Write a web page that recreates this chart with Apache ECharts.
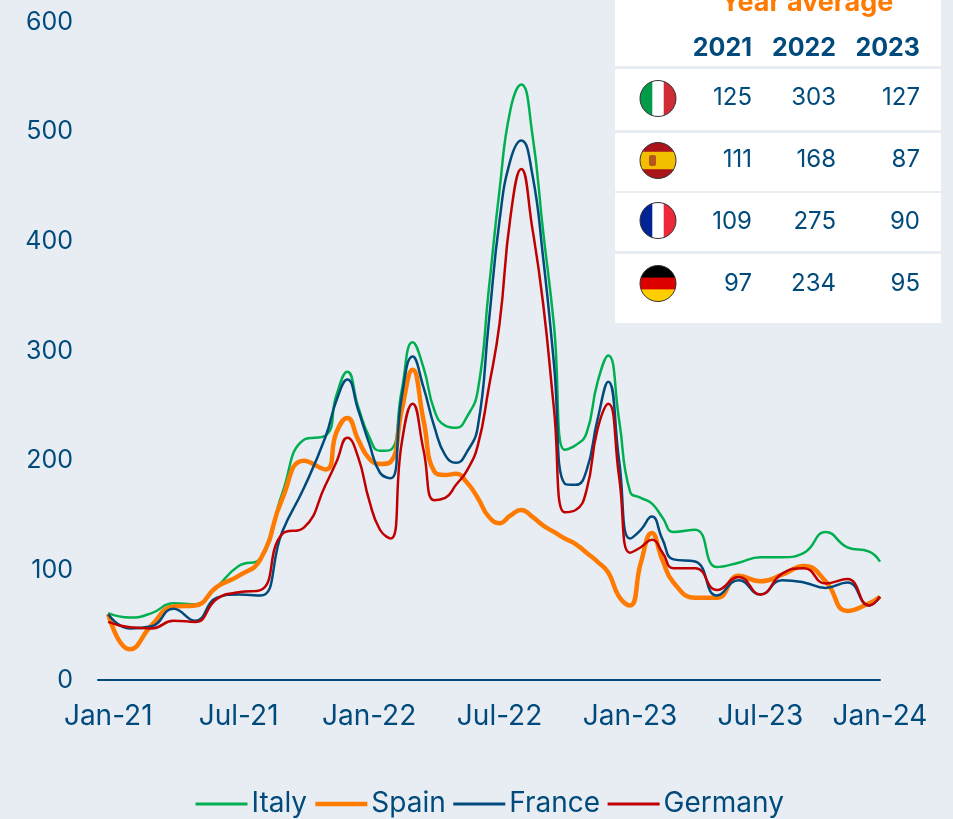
<!DOCTYPE html>
<html>
<head>
<meta charset="utf-8">
<style>
  html, body { margin: 0; padding: 0; background: #e8edf4; }
  #chart { width: 953px; height: 819px; }
</style>
<script src="https://cdn.jsdelivr.net/npm/echarts@6/dist/echarts.min.js"></script>
</head>
<body>
<div id="chart"></div>
<script>
// month index from Jan-21, half months where the curves move fast, last point sits at the axis end
const months = [0,1,2,3,4,5,6,7,8,9,10,10.5,11,11.5,12,12.5,13,13.5,14,14.5,15,15.5,16,16.5,17,17.5,18,18.5,19,19.5,20,20.5,21,21.5,22,22.5,23,23.5,24,24.5,25,25.5,26,27,28,29,30,31,32,33,34,35,35.5];
const tick_months = [0, 6, 12, 18, 24, 30, 35.5];
const tick_labels = ['Jan-21', 'Jul-21', 'Jan-22', 'Jul-22', 'Jan-23', 'Jul-23', 'Jan-24'];

const italy = [61,57,61,70,69,85,104,111,170,219,223,260,281,249,222,209,210,264,308,285,246,232,230,240,264,355,447,520,543,499,410,324,210,214,225,271,296,237,172,166,161,148,135,137,103,107,112,112,116,135,121,117,108];
const spain = [60,28,50,67,68,85,95,110,165,200,192,226,239,219,202,197,199,246,283,237,190,187,188,180,166,149,143,150,155,149,141,135,129,124,116,108,98,76,68,107,134,109,89,75,75,95,90,96,104,90,63,70,76];
const france = [60,47,49,65,54,75,78,77,135,175,222,255,274,246,216,189,184,258,295,267,231,205,198,208,231,325,419,474,492,462,386,289,179,178,191,237,272,200,129,137,149,128,110,108,77,91,78,91,89,84,89,68,76];
const germany = [53,48,47,54,53,74,80,82,133,139,178,199,221,203,164,137,129,216,252,210,164,166,178,191,214,266,325,422,466,413,344,248,153,155,173,228,252,185,116,121,128,116,102,102,82,94,78,97,102,88,92,68,76];

const table_years = ['2021', '2022', '2023'];
const table_rows = [
  ['125', '303', '127'],
  ['111', '168', '87'],
  ['109', '275', '90'],
  ['97', '234', '95']
];

const text_color = '#004a7c';
const font = 'Inter, sans-serif';

function series_line(name, values, color, width, z) {
  return {
    name: name,
    type: 'line',
    smooth: 0.5,
    symbol: 'none',
    z: z,
    itemStyle: {color: color},
    lineStyle: {color: color, width: width},
    data: months.map((m, i) => [m, values[i]])
  };
}

function gradient(vertical, stops) {
  return {
    type: 'linear', x: 0, y: 0, x2: vertical ? 0 : 1, y2: vertical ? 1 : 0,
    colorStops: stops.map(s => ({offset: s[0], color: s[1]}))
  };
}

function hard(cols) {
  const stops = [];
  cols.forEach(c => {
    stops.push([c[0], c[2]]);
    stops.push([c[1], c[2]]);
  });
  return stops;
}

const flags = [
  gradient(false, hard([[0, 0.33, '#009a49'], [0.36, 0.64, '#ffffff'], [0.67, 1, '#ce2b37']])),
  gradient(true, hard([[0, 0.25, '#aa151b'], [0.28, 0.72, '#f1bf00'], [0.75, 1, '#aa151b']])),
  gradient(false, hard([[0, 0.33, '#002395'], [0.36, 0.64, '#ffffff'], [0.67, 1, '#ed2939']])),
  gradient(true, hard([[0, 0.33, '#000000'], [0.35, 0.65, '#dd0000'], [0.67, 1, '#ffce00']]))
];

function table_graphics() {
  const out = [];
  const bands = [[0, 66], [69, 130], [133, 191], [193, 251], [254, 323]];
  const row_y = [98, 160, 222, 284];
  const flag_y = [98.5, 160.5, 220.5, 283.5];
  const col_x = [752, 836, 920];

  bands.forEach(b => out.push({
    type: 'rect', shape: {x: 615, y: b[0], width: 326, height: b[1] - b[0]},
    style: {fill: '#ffffff'}, z: 10
  }));
  out.push({
    type: 'text', x: 807, y: 3, z: 11,
    style: {text: 'Year average', fill: '#ff7a00', font: 'bold 27px ' + font, textAlign: 'center', textVerticalAlign: 'middle'}
  });
  table_years.forEach((year, c) => out.push({
    type: 'text', x: col_x[c], y: 48, z: 11,
    style: {text: year, fill: text_color, font: 'bold 25px ' + font, textAlign: 'right', textVerticalAlign: 'middle'}
  }));
  table_rows.forEach((row, r) => {
    out.push({
      type: 'circle', shape: {cx: 658, cy: flag_y[r], r: 18}, z: 11,
      style: {fill: flags[r], stroke: '#333333', lineWidth: 1}
    });
    row.forEach((val, c) => out.push({
      type: 'text', x: col_x[c], y: row_y[r], z: 11,
      style: {text: val, fill: text_color, font: '24px ' + font, textAlign: 'right', textVerticalAlign: 'middle'}
    }));
  });
  // coat of arms on the Spanish flag
  out.push({type: 'rect', shape: {x: 649, y: 155, width: 7, height: 11, r: 2}, z: 12, style: {fill: '#b5541c'}});
  return out;
}

const chart = echarts.init(document.getElementById('chart'));
chart.setOption({
  backgroundColor: '#e8edf4',
  animation: false,
  textStyle: {fontFamily: font},
  grid: {left: 98, right: 73, top: 22, bottom: 139},
  legend: {
    top: 785,
    left: 189,
    itemWidth: 52,
    itemHeight: 14,
    itemGap: 6,
    itemStyle: {opacity: 0},
    textStyle: {color: text_color, fontSize: 28, fontFamily: font, padding: [0, 0, 0, -1]},
    data: [
      {name: 'Italy', lineStyle: {width: 3}},
      {name: 'Spain', lineStyle: {width: 4.5}},
      {name: 'France', lineStyle: {width: 3}},
      {name: 'Germany', lineStyle: {width: 3}}
    ]
  },
  xAxis: {
    type: 'value',
    min: -0.47,
    max: 35.5,
    splitLine: {show: false},
    axisLine: {show: true, onZero: false, lineStyle: {color: text_color, width: 2}},
    axisTick: {show: false},
    axisLabel: {
      customValues: tick_months,
      color: text_color,
      fontSize: 28,
      margin: 23,
      showMinLabel: true,
      showMaxLabel: true,
      formatter: v => tick_labels[tick_months.indexOf(v)]
    }
  },
  yAxis: {
    type: 'value',
    min: 0,
    max: 600,
    interval: 100,
    splitLine: {show: false},
    axisLine: {show: false},
    axisTick: {show: false},
    axisLabel: {color: text_color, fontSize: 25, margin: 25}
  },
  series: [
    series_line('Italy', italy, '#00b050', 2.5, 2),
    series_line('Spain', spain, '#ff7a00', 4.5, 3),
    series_line('France', france, '#004a7c', 2.5, 4),
    series_line('Germany', germany, '#c00000', 2.5, 5)
  ],
  graphic: table_graphics()
});
</script>
</body>
</html>
